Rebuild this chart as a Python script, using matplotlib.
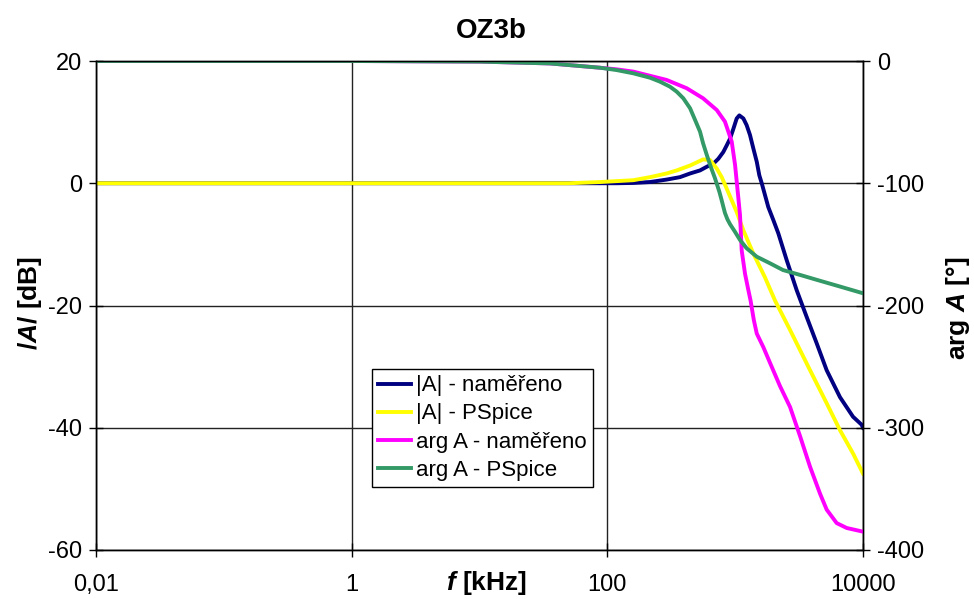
import matplotlib.pyplot as plt
import numpy as np

plt.rcParams['font.family'] = ['Liberation Sans', 'DejaVu Sans']
plt.rcParams['axes.unicode_minus'] = False
plt.rcParams['mathtext.fontset'] = 'custom'
plt.rcParams['mathtext.it'] = 'Liberation Sans:italic:bold'
plt.rcParams['mathtext.rm'] = 'Liberation Sans:bold'
plt.rcParams['mathtext.bf'] = 'Liberation Sans:bold'

# |A| measured [dB]
f_mag_meas = [0.01, 1, 10, 50, 88, 118, 160, 216, 291, 370, 444, 531, 600, 675, 738, 807,
              859, 912, 968, 1028, 1078, 1159, 1230, 1306, 1387, 1476, 1545, 1614, 1816,
              1987, 2176, 2531, 3029, 3630, 4345, 5200, 6607, 8356, 9750, 10000]
mag_meas = [0, 0, 0, 0, 0, 0, 0.05, 0.2, 0.6, 1.0, 1.6, 2.1, 2.7, 3.2, 4.0, 5.1,
            6.2, 7.3, 8.9, 10.6, 11.1, 10.6, 9.5, 7.9, 5.7, 3.5, 1.3, 0, -3.9,
            -6.0, -8.2, -12.6, -17.5, -21.9, -26.2, -30.6, -35.0, -38.2, -39.5, -40.0]

# |A| PSpice [dB]
f_mag_sim = [0.01, 1, 10, 50, 88, 160, 216, 291, 349, 444, 561, 636, 718, 785, 859,
             940, 1028, 1159, 1387, 1711, 2051, 2687, 3855, 5200, 6607, 8356, 10000]
mag_sim = [0, 0, 0, 0, 0.2, 0.5, 1.0, 1.6, 2.1, 2.9, 3.9, 3.8, 2.4, 1.0, -0.9,
           -2.8, -4.7, -7.7, -11.5, -15.4, -19.2, -24.0, -30.6, -36.0, -40.4, -44.2, -47.5]

# arg A measured [deg]
f_arg_meas = [0.01, 1, 10, 35.6, 87.7, 118, 160, 291, 418, 561, 718, 832, 940, 998, 1059,
              1091, 1125, 1194, 1260, 1320, 1400, 1476, 1660, 1875, 2244, 2687, 3221, 3855,
              4615, 5200, 6226, 7460, 10000]
arg_meas = [0, 0, -0.5, -2.0, -5.5, -6.8, -8.7, -15.5, -22.3, -30.5, -40.1, -49.6, -66, -85, -112,
            -126, -155, -174, -186, -196, -212, -223, -234, -247, -266, -283, -307, -332,
            -354, -367, -378, -382, -385]

# arg A PSpice [deg]
f_arg_sim = [0.01, 1, 10, 35.6, 87.7, 118, 160, 216, 258, 309, 349, 393, 444, 486, 531,
             561, 600, 644, 695, 752, 780, 807, 832, 870, 912, 998, 1091, 1230, 1476, 1875,
             2367, 3221, 4345, 6607, 10000]
arg_sim = [0, 0, -0.5, -2.0, -5.5, -7.4, -10.1, -13.7, -16.9, -21, -25.1, -30.5, -38.7, -48.3,
           -57.8, -67.3, -76.9, -86.5, -95.9, -106.9, -113, -119, -124.3, -129.5, -133.5,
           -139.8, -146.4, -153.2, -160.1, -165.5, -171, -175, -179, -184.5, -190]

x_ticks = [0.01, 1, 100, 10000]
x_ticklabels = ['0,01', '1', '100', '10000']
y_ticks = [-60, -40, -20, 0, 20]
y2_ticks = [-400, -300, -200, -100, 0]

W, H = 974, 599
fig = plt.figure(figsize=(W / 100, H / 100), dpi=100)
ax = fig.add_axes([96 / W, (H - 550) / H, 767 / W, 489 / H])
ax2 = ax.twinx()

lw = 2.8
l1, = ax.plot(f_mag_meas, mag_meas, color='#000080', lw=lw, label='|A| - naměřeno')
l2, = ax.plot(f_mag_sim, mag_sim, color='#FFFF00', lw=lw, label='|A| - PSpice')
l3, = ax2.plot(f_arg_meas, arg_meas, color='#FF00FF', lw=lw, label='arg A - naměřeno')
l4, = ax2.plot(f_arg_sim, arg_sim, color='#339966', lw=lw, label='arg A - PSpice')

ax.set_xscale('log')
ax.set_xlim(0.01, 10000)
ax.set_ylim(-60, 20)
ax2.set_ylim(-400, 0)
ax.set_xticks(x_ticks)
ax.set_xticklabels(x_ticklabels)
ax.xaxis.set_minor_locator(plt.NullLocator())
ax.set_yticks(y_ticks)
ax2.set_yticks(y2_ticks)

ax.grid(True, color='#222222', lw=1.0)
for a in (ax, ax2):
    for s in a.spines.values():
        s.set_color('black')
        s.set_linewidth(1.0)
ax.tick_params(axis='both', which='major', direction='inout', length=10, width=1,
               labelsize=17, pad=5)
ax.tick_params(axis='x', pad=12)
ax2.tick_params(axis='y', direction='inout', length=10, width=1, labelsize=17, pad=5)

fig.text(491 / W, 1 - 31 / H, 'OZ3b', ha='center', va='center', fontsize=20, fontweight='bold')
fig.text(487 / W, 1 - 583 / H, '$f$ [kHz]', ha='center', va='center', fontsize=19,
         fontweight='bold')
fig.text(30 / W, 1 - 303 / H, '/$A$/ [dB]', ha='center', va='center', rotation=90,
         fontsize=19, fontweight='bold')
fig.text(958 / W, 1 - 308 / H, 'arg $A$ [°]', ha='center', va='center', rotation=90,
         fontsize=19, fontweight='bold')

leg = ax2.legend(handles=[l1, l2, l3, l4], loc='lower left', bbox_to_anchor=(0.36, 0.129),
                 borderaxespad=0, fancybox=False, framealpha=1, edgecolor='black',
                 fontsize=16, labelspacing=0.32, handlelength=1.45, handletextpad=0.25,
                 borderpad=0.28)
leg.get_frame().set_linewidth(1.0)

fig.savefig('out.png', dpi=100)
